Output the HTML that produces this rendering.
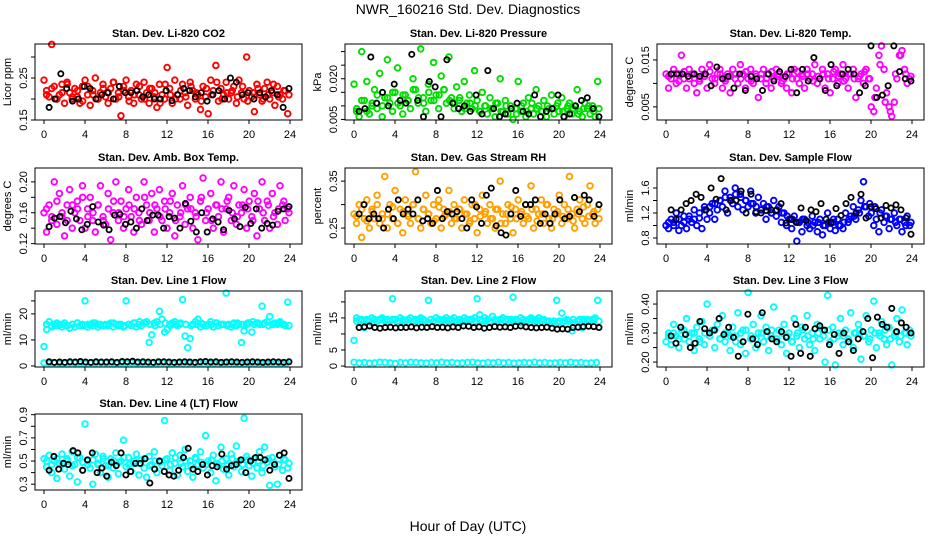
<!DOCTYPE html>
<html><head><meta charset="utf-8"><style>
html,body{margin:0;padding:0;background:#fff;}
svg{display:block;font-family:"Liberation Sans",sans-serif;}
</style></head><body>
<svg id="chart" width="936" height="540" viewBox="0 0 936 540" xmlns="http://www.w3.org/2000/svg">
<text x="468" y="14" text-anchor="middle" font-size="14">NWR_160216 Std. Dev. Diagnostics</text>
<text x="468" y="531" text-anchor="middle" font-size="14">Hour of Day (UTC)</text>
</svg>
<script>
const xTicks=[0,4,8,12,16,20,24];
const co2=[0.245,0.22,0.205,0.33,0.23,0.2,0.21,0.235,0.19,0.24,0.215,0.2,0.225,0.205,0.19,0.23,0.245,0.21,0.185,0.22,0.25,0.2,0.215,0.235,0.205,0.19,0.225,0.24,0.2,0.215,0.16,0.23,0.245,0.205,0.22,0.19,0.235,0.21,0.2,0.24,0.215,0.19,0.225,0.205,0.18,0.235,0.21,0.2,0.275,0.225,0.19,0.245,0.21,0.2,0.235,0.215,0.185,0.24,0.22,0.2,0.21,0.175,0.23,0.205,0.165,0.245,0.22,0.28,0.195,0.225,0.21,0.24,0.2,0.215,0.23,0.19,0.245,0.215,0.2,0.3,0.22,0.205,0.17,0.235,0.21,0.195,0.225,0.24,0.2,0.215,0.185,0.23,0.21,0.2,0.22,0.165];
const co2b=[0.21,0.225,0.2,0.215,0.235,0.205,0.22,0.195,0.23,0.21,0.2,0.225,0.215,0.24,0.205,0.22,0.195,0.21,0.23,0.2,0.225,0.215,0.19,0.235,0.21,0.2,0.22,0.205,0.23,0.215,0.195,0.225,0.21,0.24,0.2,0.215,0.22,0.205,0.23,0.195,0.215,0.225,0.2,0.21,0.235,0.205,0.22,0.21];
const co2Black=[0.18,0.2,0.26,0.225,0.195,0.2,0.23,0.225,0.2,0.21,0.215,0.2,0.23,0.215,0.215,0.22,0.205,0.21,0.2,0.2,0.22,0.196,0.21,0.225,0.22,0.205,0.215,0.195,0.21,0.22,0.2,0.25,0.24,0.21,0.215,0.2,0.215,0.205,0.22,0.21,0.18,0.225];
const pres=[0.018,0.008,0.006,0.03,0.012,0.019,0.007,0.01,0.016,0.009,0.022,0.006,0.013,0.027,0.011,0.008,0.015,0.024,0.01,0.007,0.014,0.012,0.009,0.02,0.016,0.011,0.031,0.013,0.008,0.018,0.012,0.026,0.014,0.009,0.021,0.016,0.011,0.028,0.013,0.009,0.017,0.012,0.008,0.019,0.011,0.014,0.009,0.023,0.012,0.008,0.015,0.01,0.007,0.013,0.009,0.006,0.011,0.02,0.008,0.012,0.007,0.01,0.005,0.009,0.019,0.008,0.011,0.006,0.013,0.009,0.007,0.016,0.01,0.008,0.012,0.006,0.009,0.014,0.007,0.01,0.008,0.013,0.006,0.009,0.011,0.007,0.01,0.016,0.008,0.006,0.011,0.009,0.007,0.01,0.006,0.019];
const presb=[0.009,0.012,0.008,0.011,0.014,0.01,0.013,0.015,0.011,0.014,0.012,0.016,0.013,0.011,0.015,0.012,0.014,0.016,0.012,0.011,0.013,0.009,0.011,0.01,0.008,0.01,0.009,0.011,0.008,0.01,0.009,0.007,0.01,0.008,0.011,0.009,0.008,0.01,0.009,0.011,0.008,0.01,0.009,0.007,0.009,0.01,0.008,0.009];
const presBlack=[0.008,0.009,0.028,0.011,0.015,0.01,0.018,0.012,0.011,0.029,0.012,0.006,0.019,0.017,0.006,0.027,0.011,0.009,0.01,0.008,0.014,0.007,0.023,0.009,0.006,0.007,0.009,0.011,0.008,0.007,0.014,0.006,0.008,0.009,0.014,0.006,0.007,0.01,0.012,0.013,0.009,0.006];
const temp=[0.012,0.009,0.011,0.013,0.01,0.012,0.016,0.011,0.009,0.013,0.012,0.01,0.008,0.011,0.013,0.012,0.009,0.014,0.011,0.01,0.012,0.013,0.009,0.011,0.012,0.008,0.013,0.011,0.01,0.014,0.012,0.009,0.011,0.013,0.01,0.012,0.007,0.011,0.013,0.01,0.012,0.009,0.011,0.013,0.012,0.01,0.011,0.009,0.012,0.008,0.013,0.011,0.01,0.012,0.009,0.013,0.011,0.012,0.014,0.01,0.011,0.013,0.009,0.012,0.008,0.011,0.013,0.01,0.012,0.014,0.011,0.009,0.012,0.013,0.007,0.011,0.012,0.01,0.013,0.011,0.005,0.004,0.009,0.016,0.018,0.013,0.008,0.005,0.003,0.006,0.011,0.016,0.017,0.013,0.01,0.011];
const tempb=[0.0115,0.012,0.0105,0.0125,0.011,0.012,0.0105,0.0115,0.0125,0.011,0.012,0.0105,0.0115,0.012,0.011,0.0125,0.0105,0.0115,0.012,0.011,0.0125,0.0115,0.0105,0.012,0.011,0.0125,0.0115,0.012,0.0105,0.0115,0.012,0.011,0.0125,0.0115,0.0105,0.012,0.011,0.0115,0.0125,0.011,0.007,0.014,0.006,0.004,0.012,0.016,0.012,0.0115];
const tempBlack=[0.012,0.012,0.012,0.0115,0.012,0.0115,0.012,0.0095,0.0135,0.011,0.0115,0.009,0.012,0.0085,0.0115,0.011,0.0085,0.012,0.0105,0.0125,0.0115,0.013,0.008,0.013,0.0105,0.0155,0.011,0.0085,0.014,0.0095,0.012,0.013,0.012,0.008,0.0095,0.018,0.007,0.0075,0.0095,0.018,0.0125,0.011,0.0105];
const amb=[0.16,0.135,0.17,0.15,0.2,0.145,0.185,0.155,0.13,0.17,0.19,0.14,0.16,0.175,0.15,0.195,0.14,0.165,0.18,0.15,0.135,0.17,0.195,0.155,0.145,0.185,0.125,0.16,0.2,0.15,0.175,0.14,0.165,0.19,0.155,0.135,0.18,0.16,0.145,0.2,0.17,0.15,0.185,0.135,0.165,0.19,0.15,0.175,0.14,0.16,0.185,0.13,0.17,0.155,0.195,0.145,0.165,0.18,0.14,0.16,0.125,0.175,0.205,0.15,0.165,0.185,0.14,0.17,0.155,0.2,0.135,0.165,0.18,0.15,0.195,0.145,0.17,0.16,0.19,0.14,0.175,0.155,0.185,0.13,0.165,0.2,0.15,0.175,0.14,0.185,0.16,0.145,0.195,0.17,0.15,0.165];
const ambb=[0.165,0.155,0.175,0.16,0.15,0.17,0.165,0.18,0.155,0.16,0.17,0.15,0.165,0.175,0.16,0.155,0.17,0.165,0.15,0.18,0.16,0.17,0.155,0.165,0.175,0.15,0.16,0.17,0.165,0.155,0.18,0.16,0.15,0.17,0.165,0.175,0.16,0.155,0.17,0.165,0.15,0.175,0.16,0.17,0.155,0.165,0.175,0.16];
const ambBlack=[0.142,0.153,0.155,0.147,0.162,0.152,0.138,0.145,0.168,0.148,0.144,0.138,0.157,0.158,0.145,0.148,0.14,0.165,0.15,0.157,0.157,0.14,0.155,0.153,0.14,0.172,0.149,0.135,0.16,0.135,0.152,0.148,0.138,0.163,0.152,0.142,0.167,0.146,0.165,0.14,0.146,0.144,0.162,0.165,0.168];
const rh=[0.28,0.26,0.3,0.23,0.27,0.31,0.25,0.29,0.27,0.32,0.26,0.28,0.36,0.25,0.3,0.27,0.33,0.26,0.29,0.24,0.31,0.28,0.26,0.3,0.37,0.27,0.25,0.29,0.32,0.28,0.26,0.3,0.27,0.31,0.25,0.29,0.28,0.33,0.26,0.3,0.27,0.29,0.25,0.31,0.28,0.26,0.3,0.27,0.24,0.29,0.32,0.28,0.26,0.3,0.27,0.25,0.29,0.35,0.28,0.26,0.3,0.27,0.24,0.29,0.31,0.28,0.26,0.3,0.27,0.34,0.25,0.29,0.28,0.31,0.26,0.3,0.27,0.25,0.29,0.28,0.32,0.26,0.3,0.27,0.36,0.28,0.25,0.29,0.31,0.27,0.26,0.3,0.34,0.28,0.26,0.29];
const rhb=[0.275,0.29,0.265,0.285,0.3,0.27,0.28,0.295,0.26,0.285,0.275,0.3,0.27,0.29,0.28,0.265,0.295,0.275,0.285,0.27,0.29,0.28,0.265,0.3,0.275,0.285,0.27,0.29,0.26,0.28,0.295,0.27,0.285,0.275,0.29,0.265,0.28,0.3,0.27,0.285,0.275,0.29,0.265,0.28,0.295,0.275,0.285,0.27];
const rhBlack=[0.28,0.3,0.27,0.28,0.27,0.25,0.29,0.27,0.31,0.28,0.29,0.28,0.31,0.265,0.27,0.26,0.33,0.27,0.285,0.28,0.285,0.27,0.25,0.31,0.295,0.26,0.32,0.335,0.255,0.24,0.235,0.28,0.33,0.275,0.3,0.3,0.31,0.26,0.28,0.26,0.28,0.31,0.27,0.275,0.315,0.285,0.32,0.31,0.275,0.3];
const flow=[1.0,0.95,1.1,1.05,1.2,0.92,1.0,1.15,0.95,1.1,1.05,1.25,1.0,1.12,0.95,1.3,1.1,1.2,1.35,1.1,1.25,1.4,1.3,1.55,1.2,1.45,1.35,1.6,1.3,1.5,1.25,1.4,1.3,1.55,1.35,1.2,1.45,1.25,1.35,1.1,1.3,1.2,1.4,1.15,1.3,1.05,1.2,1.0,1.1,0.95,1.15,0.75,1.05,0.9,1.1,1.0,0.95,1.15,1.05,0.9,1.1,0.85,1.0,1.2,0.95,1.05,0.92,1.1,1.0,0.95,1.2,1.05,1.15,1.3,1.1,1.25,1.4,1.7,1.3,1.15,1.2,1.0,1.1,0.9,1.25,1.05,1.15,0.95,1.1,1.2,1.0,1.1,0.9,1.05,1.15,1.0];
const flowb=[1.05,1.0,1.1,1.05,1.15,1.1,1.2,1.25,1.3,1.35,1.4,1.45,1.4,1.5,1.45,1.4,1.35,1.3,1.25,1.3,1.2,1.25,1.2,1.15,1.1,1.05,1.1,1.05,1.0,1.05,1.0,1.05,1.1,1.0,1.05,1.1,1.15,1.2,1.3,1.35,1.3,1.2,1.15,1.1,1.05,1.1,1.0,1.05];
const flowBlack=[1.25,1.1,1.25,1.35,1.4,1.5,1.45,1.25,1.6,1.42,1.75,1.25,1.4,1.4,1.55,1.2,1.5,1.22,1.2,1.24,1.25,1.24,1.35,1.04,1.1,1.05,1.28,1.08,1.25,1.22,1.35,1.1,1.05,1.27,1.16,1.35,1.45,1.2,1.5,1.12,1.3,1.27,1.12,1.32,1.28,1.33,1.25,1.12,0.86];
const line1=[7.5,14,17,15,16,15.5,16,15,16.5,15.5,14.5,16,15,16.5,15.5,16,25,15,16,15.5,16.5,15,16,15.5,16,15.5,16.5,15,16,15.5,16,15,25,16,15.5,16.5,15,16,15.5,16.5,17,9,12,16.5,17,21,18,13,14,16,16.5,17,15.5,16,25.5,11.5,7,10.5,16,17,18,15,16,15.5,16,17,15,16.5,15.5,16,16,28,16,15,16.5,15.5,16,9,13.5,16,16.5,13,16,16.5,16,23,16.5,17,19,16,16.5,16,17,16,15.5,24.5];
const line1b=[16,15.5,16.5,16,15.5,16,16.5,15.5,16,16.5,16,15.5,16,16.5,16,15.5,16,16.5,17,16.5,16,15.5,16,16.5,15.5,16,16.5,16,15.5,16,16.5,15.5,16,16.5,16,15.5,16,16.5,16,16.5,17,16.5,16,15.5,16,16.5,16,15.5];
const lineLow=[1.2,1.0,1.1,0.9,1.0,1.2,1.1,1.0,0.8,1.1,1.0,1.2,1.1,1.0,0.9,1.1,1.0,1.2,1.0,1.1,0.9,1.0,1.1,1.2,1.0,0.9,1.1,1.0,1.2,1.0,1.1,0.9,1.0,1.1,1.0,1.2,1.0,1.1,0.9,1.0,1.1,1.0,1.2,1.0,1.1,0.9,1.0,1.1];
const line1Black=[1.6,1.4,1.5,1.4,1.6,1.5,1.7,1.5,1.4,1.6,1.5,1.5,1.6,1.4,1.7,1.6,1.8,1.5,1.6,1.5,1.4,1.6,1.6,1.5,1.4,1.5,1.6,1.5,1.4,1.6,1.7,1.5,1.6,1.4,1.5,1.6,1.5,1.4,1.5,1.6,1.5,1.4,1.5,1.6,1.5,1.4,1.6];
const line2=[8,15,14.5,14,12,14.5,14,15,14.5,14,14.5,15,14,14.5,14,21,14.5,14,15,14.5,14,14.5,15,14,14.5,14,15,14.5,14,20.5,14.5,14,15,14.5,14,14.5,15,14,14.5,15,14,14.5,14,15,14.5,14,14.5,15,21,16,14,15,14.5,14,15.5,14.5,14,14.5,15,14,14.5,14,21.5,14.5,14,15,14.5,14,14.5,15,14,14.5,15,14,14.5,14,14,13.5,14,20.5,14,16.5,14,14.5,14,11,13.5,14,14.5,12,14,14.5,14,14.5,15,20.5];
const line2b=[14,14.5,14,13.5,14,14.5,14,14.5,13.5,14,14.5,14,14.5,14,13.5,14,14.5,14,14.5,14,13.5,14,14.5,14,14.5,14,13.5,14,14.5,14,14.5,14,13.5,14,14.5,14,14.5,14,13.5,13.5,13.5,14,14.5,14,14.5,14,14.5,14];
const line2Black=[12,12.2,12.5,12,11.8,12,12.1,11.9,12,12,12.2,11.9,12.1,12,12.3,12,12.1,11.9,12.2,12,12.5,12.4,12,12.2,11.8,12,12.3,12.1,12.2,12,12.4,12.5,12.2,12,11.9,12,12.1,11.8,11.5,11.6,11.5,12,12.1,12.3,12.4,12.3,12];
const line3=[0.27,0.3,0.26,0.33,0.29,0.25,0.31,0.28,0.35,0.27,0.3,0.24,0.32,0.28,0.34,0.26,0.4,0.29,0.31,0.25,0.33,0.28,0.36,0.27,0.3,0.24,0.32,0.29,0.37,0.26,0.31,0.23,0.44,0.28,0.33,0.25,0.3,0.36,0.27,0.32,0.24,0.29,0.39,0.28,0.31,0.26,0.33,0.23,0.3,0.27,0.35,0.29,0.25,0.32,0.28,0.36,0.26,0.3,0.24,0.33,0.28,0.31,0.2,0.43,0.27,0.32,0.19,0.29,0.35,0.26,0.31,0.28,0.37,0.25,0.3,0.33,0.21,0.29,0.36,0.27,0.31,0.41,0.25,0.3,0.34,0.28,0.26,0.32,0.19,0.29,0.35,0.27,0.38,0.3,0.26,0.31];
const line3b=[0.29,0.3,0.28,0.31,0.29,0.3,0.27,0.3,0.29,0.31,0.28,0.3,0.29,0.27,0.3,0.31,0.29,0.28,0.3,0.29,0.31,0.28,0.3,0.29,0.27,0.3,0.31,0.29,0.28,0.3,0.29,0.31,0.28,0.3,0.29,0.27,0.3,0.31,0.29,0.28,0.3,0.29,0.31,0.28,0.3,0.29,0.3,0.29];
const line3Black=[0.29,0.265,0.32,0.295,0.25,0.265,0.34,0.315,0.3,0.31,0.35,0.295,0.32,0.285,0.22,0.27,0.365,0.28,0.26,0.37,0.305,0.28,0.27,0.305,0.285,0.22,0.33,0.23,0.32,0.22,0.315,0.325,0.31,0.26,0.295,0.23,0.3,0.27,0.24,0.28,0.305,0.35,0.215,0.355,0.33,0.32,0.385,0.305,0.335,0.32,0.3];
const line4=[0.52,0.45,0.55,0.4,0.5,0.35,0.48,0.56,0.43,0.52,0.37,0.58,0.47,0.32,0.53,0.42,0.82,0.5,0.44,0.3,0.56,0.47,0.4,0.54,0.46,0.36,0.52,0.44,0.57,0.39,0.5,0.68,0.45,0.53,0.41,0.48,0.56,0.38,0.51,0.44,0.36,0.54,0.47,0.58,0.4,0.5,0.46,0.85,0.52,0.42,0.57,0.48,0.38,0.55,0.45,0.6,0.41,0.5,0.36,0.53,0.47,0.58,0.44,0.72,0.5,0.4,0.55,0.33,0.47,0.62,0.43,0.52,0.38,0.56,0.45,0.63,0.5,0.41,0.87,0.54,0.46,0.37,0.52,0.44,0.58,0.4,0.62,0.49,0.29,0.53,0.45,0.3,0.55,0.42,0.51,0.44];
const line4b=[0.5,0.47,0.52,0.48,0.5,0.46,0.53,0.49,0.47,0.51,0.48,0.52,0.46,0.5,0.49,0.53,0.47,0.5,0.48,0.52,0.46,0.5,0.49,0.51,0.47,0.53,0.48,0.5,0.46,0.52,0.49,0.47,0.51,0.48,0.5,0.46,0.52,0.49,0.47,0.51,0.48,0.5,0.46,0.52,0.49,0.47,0.51,0.48];
const line4Black=[0.42,0.54,0.43,0.48,0.47,0.59,0.57,0.42,0.51,0.57,0.4,0.44,0.37,0.49,0.46,0.57,0.38,0.41,0.48,0.48,0.52,0.31,0.43,0.5,0.41,0.38,0.37,0.42,0.53,0.61,0.43,0.41,0.47,0.38,0.46,0.45,0.56,0.43,0.46,0.47,0.51,0.4,0.5,0.53,0.53,0.51,0.42,0.47,0.55,0.57,0.35];

const NS='http://www.w3.org/2000/svg';
const svg=document.getElementById('chart');
const colX=[35,345,657], rowY=[44,168,291,414], BW=267, BH=76;
function mk(tag,attrs,parent){const e=document.createElementNS(NS,tag);for(const k in attrs)e.setAttribute(k,attrs[k]);parent.appendChild(e);return e;}

const panels=[
 {t:'Stan. Dev. Li-820 CO2',yl:'Licor ppm',c:0,r:0,lim:[0.15,0.331],ticks:[0.15,0.2,0.25,0.3],labs:['0.15','','0.25',''],sets:[[co2,'#ff0000'],[co2b,'#ff0000']],blk:co2Black},
 {t:'Stan. Dev. Li-820 Pressure',yl:'kPa',c:1,r:0,lim:[0.0048,0.0328],ticks:[0.005,0.01,0.015,0.02,0.025,0.03],labs:['0.005','','','0.020','',''],sets:[[pres,'#00dd00'],[presb,'#00dd00']],blk:presBlack},
 {t:'Stan. Dev. Li-820 Temp.',yl:'degrees C',c:2,r:0,lim:[0.0022,0.0184],ticks:[0.005,0.01,0.015],labs:['0.005','','0.015'],sets:[[temp,'#ff00ff'],[tempb,'#ff00ff']],blk:tempBlack},
 {t:'Stan. Dev. Amb. Box Temp.',yl:'degrees C',c:0,r:1,lim:[0.1195,0.218],ticks:[0.12,0.14,0.16,0.18,0.2],labs:['0.12','','0.16','','0.20'],sets:[[amb,'#ff00ff'],[ambb,'#ff00ff']],blk:ambBlack},
 {t:'Stan. Dev. Gas Stream RH',yl:'percent',c:1,r:1,lim:[0.216,0.378],ticks:[0.25,0.3,0.35],labs:['0.25','','0.35'],sets:[[rh,'#ffa000'],[rhb,'#ffa000']],blk:rhBlack},
 {t:'Stan. Dev. Sample Flow',yl:'ml/min',c:2,r:1,lim:[0.704,1.92],ticks:[0.8,1.0,1.2,1.4,1.6],labs:['0.8','','1.2','','1.6'],sets:[[flow,'#0000ff'],[flowb,'#0000ff']],blk:flowBlack},
 {t:'Stan. Dev. Line 1 Flow',yl:'ml/min',c:0,r:2,lim:[-0.4,28.8],ticks:[0,10,20,25],labs:['0','10','20',''],sets:[[line1,'#00ffff'],[line1b,'#00ffff'],[lineLow,'#00ffff']],blk:line1Black},
 {t:'Stan. Dev. Line 2 Flow',yl:'ml/min',c:1,r:2,lim:[-0.3,23.4],ticks:[0,5,10,15,20],labs:['0','5','','15',''],sets:[[line2,'#00ffff'],[line2b,'#00ffff'],[lineLow,'#00ffff']],blk:line2Black},
 {t:'Stan. Dev. Line 3 Flow',yl:'ml/min',c:2,r:2,lim:[0.183,0.445],ticks:[0.2,0.25,0.3,0.35,0.4],labs:['0.20','','0.30','','0.40'],sets:[[line3,'#00ffff'],[line3b,'#00ffff']],blk:line3Black},
 {t:'Stan. Dev. Line 4 (LT) Flow',yl:'ml/min',c:0,r:3,lim:[0.25,0.906],ticks:[0.3,0.4,0.5,0.6,0.7,0.8,0.9],labs:['0.3','','0.5','','0.7','','0.9'],sets:[[line4,'#00ffff'],[line4b,'#00ffff']],blk:line4Black}
];

panels.forEach((p,pi)=>{
 const L=colX[p.c], T=rowY[p.r];
 const g=mk('g',{},svg);
 
 
 const xs=h=>L+9+h/24*246;
 const ys=v=>T+BH-(v-p.lim[0])/(p.lim[1]-p.lim[0])*BH;
 const title=mk('text',{x:L+BW/2,y:T-7,'text-anchor':'middle','font-size':11,'font-weight':'bold'},g);
 title.textContent=p.t;
 
 
 const yl=mk('text',{x:0,y:0,'text-anchor':'middle','font-size':11,transform:`translate(${L-24},${T+BH/2}) rotate(-90)`},g);
 yl.textContent=p.yl;
 
 
 xTicks.forEach(h=>{
  mk('line',{x1:xs(h),x2:xs(h),y1:T+BH,y2:T+BH+4,stroke:'#000'},g);
  const tx=mk('text',{x:xs(h),y:T+BH+18,'text-anchor':'middle','font-size':11},g);
  tx.textContent=h;
  
  
 });
 p.ticks.forEach((v,i)=>{
  mk('line',{x1:L-4,x2:L,y1:ys(v),y2:ys(v),stroke:'#000'},g);
  if(p.labs[i]){
   const ty=mk('text',{x:0,y:0,'text-anchor':'middle','font-size':11,transform:`translate(${L-8},${ys(v)}) rotate(-90)`},g);
   ty.textContent=p.labs[i];
   
   
  }
 });
 p.sets.forEach(([arr,col],si)=>{
  arr.forEach((v,i)=>{
   const h=(i+(si%2)*0.5)/(arr.length-0.5)*23.9;
   const c=mk('circle',{cx:xs(h),cy:ys(v),r:2.8,fill:'none',stroke:col,'stroke-width':1.9},g);
   
   
  });
 });
 p.blk.forEach((v,i)=>{
  const h=0.5+i/(p.blk.length-1)*23.4;
  const c=mk('circle',{cx:xs(h),cy:ys(v),r:2.6,fill:'none',stroke:'#000','stroke-width':1.8},g);
  
  
 });
 const box=mk('rect',{x:L,y:T,width:BW,height:BH,fill:'none',stroke:'#000','stroke-width':1},g);
 
 
});
</script>
</body></html>
